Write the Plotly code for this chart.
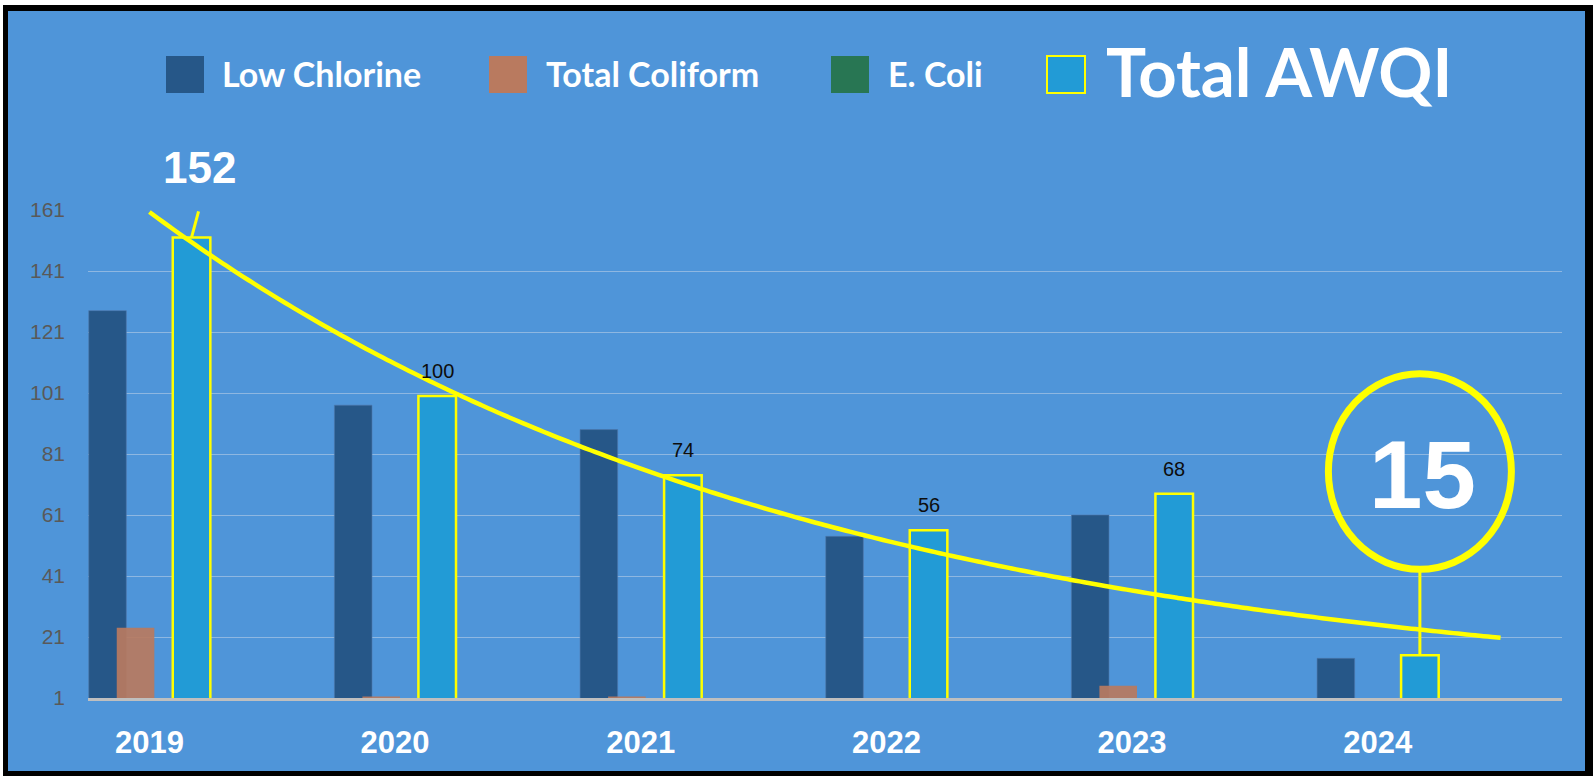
import numpy as np
import plotly.graph_objects as go

# ---------------- data ----------------
years = ["2019", "2020", "2021", "2022", "2023", "2024"]
low_chlorine = [128, 97, 89, 54, 61, 14]
total_coliform = [24, 1.5, 1.5, 0, 5, 0]
e_coli = [0, 0, 0, 0, 0, 0]
total_awqi = [152, 100, 74, 56, 68, 15]
y_tick_values = list(range(1, 162, 20))

# ---------------- styles ----------------
BG = "#4F95D9"
C_LC = "#265788"
C_TC = "#B97A5F"
C_EC = "#287653"
C_AW = "#229BD6"
YEL = "#FFFF00"

W, H = 1593, 776
PL, PR, PT, PB = 88, 1562, 210, 698  # plot area in pixels


def px(x):
    return (x - PL) / (PR - PL)


def py(y):
    return (PB - y) / (PB - PT)


xi = np.arange(len(years))
bw = 0.153
offs = {"lc": -0.247, "tc": -0.133, "ec": -0.019, "aw": 0.095}

fig = go.Figure()
fig.add_trace(go.Bar(x=xi, y=low_chlorine, name="Low Chlorine", offset=offs["lc"], width=bw,
                     marker=dict(color=C_LC, line=dict(width=1, color="rgba(80,120,170,0.6)"))))
fig.add_trace(go.Bar(x=xi, y=total_coliform, name="Total Coliform", offset=offs["tc"], width=bw,
                     marker=dict(color=C_TC, line=dict(width=0)), opacity=0.92))
fig.add_trace(go.Bar(x=xi, y=e_coli, name="E. Coli", offset=offs["ec"], width=bw,
                     marker=dict(color=C_EC, line=dict(width=0))))
fig.add_trace(go.Bar(x=xi, y=total_awqi, name="Total AWQI", offset=offs["aw"], width=bw,
                     marker=dict(color=C_AW, line=dict(width=2.5, color=YEL))))

# exponential trendline (least-squares fit on log values, forecast +0.5)
coef = np.polyfit(xi, np.log(total_awqi), 1)
tx = np.linspace(0, len(years) - 0.5, 160)
ty = np.exp(np.polyval(coef, tx))
fig.add_trace(go.Scatter(x=tx, y=ty, mode="lines", line=dict(color=YEL, width=4.5, shape="spline"),
                         hoverinfo="skip", name="Trend"))

shapes = []
annotations = []

# background frame
shapes.append(dict(type="rect", xref="paper", yref="paper", x0=px(3), x1=px(W + 5), y0=py(5), y1=py(H + 5),
                   fillcolor="black", line=dict(width=0), layer="below"))
shapes.append(dict(type="rect", xref="paper", yref="paper", x0=px(8), x1=px(1585), y0=py(11), y1=py(771),
                   fillcolor=BG, line=dict(width=0), layer="below"))

# data labels
aw_center = [i + offs["aw"] + bw / 2 for i in xi]
for i, v in enumerate(total_awqi):
    if i == 0:
        annotations.append(dict(x=aw_center[i], y=v, xref="x", yref="y", text=f"<b>{v}</b>", showarrow=False,
                                xshift=8, yshift=70, font=dict(family="Arial", size=44, color="white")))
        shapes.append(dict(type="line", xref="x", yref="y", xsizemode="pixel", ysizemode="pixel",
                           xanchor=aw_center[i], yanchor=v, x0=0, y0=0, x1=7, y1=26,
                           line=dict(color=YEL, width=3)))
    elif i == len(total_awqi) - 1:
        annotations.append(dict(x=aw_center[i], y=v, xref="x", yref="y", text=f"<b>{v}</b>", showarrow=False,
                                xshift=3, yshift=181, font=dict(family="Arial", size=96, color="white")))
        shapes.append(dict(type="circle", xref="x", yref="y", xsizemode="pixel", ysizemode="pixel",
                           xanchor=aw_center[i], yanchor=v, x0=-91.5, x1=91.5, y0=86, y1=281.5,
                           line=dict(color=YEL, width=7)))
        shapes.append(dict(type="line", xref="x", yref="y", xsizemode="pixel", ysizemode="pixel",
                           xanchor=aw_center[i], yanchor=v, x0=0, y0=0, x1=0, y1=86,
                           line=dict(color=YEL, width=3)))
    else:
        annotations.append(dict(x=aw_center[i], y=v, xref="x", yref="y", text=str(v), showarrow=False,
                                yshift=25, font=dict(family="Arial", size=20, color="#0D0D0D")))

# custom legend
leg = [("Low Chlorine", C_LC, 166, 220, 34, None),
       ("Total Coliform", C_TC, 489, 544, 34, None),
       ("E. Coli", C_EC, 831, 886, 34, None),
       ("Total AWQI", C_AW, 1047, 1104, 67, YEL)]
for name, col, sx, tx0, fs, border in leg:
    shapes.append(dict(type="rect", xref="paper", yref="paper", x0=px(sx), x1=px(sx + 38),
                       y0=py(93), y1=py(56), fillcolor=col,
                       line=dict(width=2 if border else 0, color=border if border else col)))
    annotations.append(dict(x=px(tx0), y=py(74 if fs < 40 else 71), xref="paper", yref="paper",
                            text=f"<b>{name}</b>", showarrow=False, xanchor="left", yanchor="middle",
                            font=dict(family="Lato", size=fs, color="white")))

fig.update_layout(
    width=W, height=H,
    margin=dict(l=PL, r=W - PR, t=PT, b=H - PB, pad=0),
    paper_bgcolor="white",
    plot_bgcolor="rgba(0,0,0,0)",
    barmode="overlay",
    showlegend=False,
    shapes=shapes,
    annotations=annotations,
    xaxis=dict(range=[-0.25, len(years) - 0.25], tickmode="array", tickvals=xi,
               ticktext=[f"<b>{y}</b>" for y in years],
               showgrid=False, zeroline=False, showline=True, linecolor="#BFBFBF", linewidth=3,
               ticks="", ticklabelstandoff=15, tickfont=dict(family="Arial", size=31, color="white")),
    yaxis=dict(range=[1, 161], tickmode="array", tickvals=y_tick_values, showgrid=True,
               gridcolor="rgba(220,225,235,0.45)", gridwidth=1, zeroline=False, showline=False,
               ticks="", ticklabelstandoff=22, tickfont=dict(family="Arial", size=21, color="#595959")),
)

fig.write_html("out.html", config={"displayModeBar": False},
               post_script="document.body.style.margin='0';document.body.style.overflow='hidden';")
